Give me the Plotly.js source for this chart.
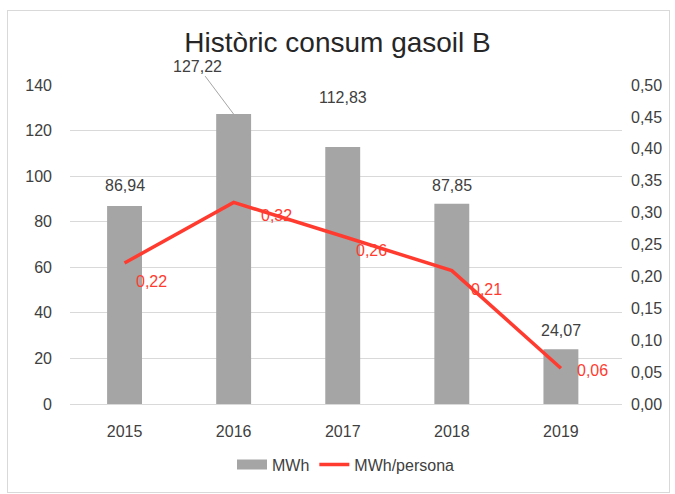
<!DOCTYPE html>
<html><head><meta charset="utf-8">
<script src="https://cdn.plot.ly/plotly-3.0.1.min.js"></script>
<style>body{margin:0;background:#fff}#frame{position:absolute;left:7px;top:10px;width:661px;height:481px;border:1px solid #d9d9d9;pointer-events:none}</style>
</head><body>
<div id="chart" style="width:675px;height:494px"></div>
<div id="frame"></div>
<script>
const years = ['2015','2016','2017','2018','2019'];
const mwh = [86.94, 127.22, 112.83, 87.85, 24.07];
const mwhLabels = ['86,94','127,22','112,83','87,85','24,07'];
const perPerson = [0.221, 0.316, 0.263, 0.209, 0.056];
const perPersonLabels = ['0,22','0,32','0,26','0,21','0,06'];

const font = 'Liberation Sans, Arial, sans-serif';
const traces = [
  {type:'bar', x:years, y:mwh, name:'MWh', marker:{color:'#a5a5a5'}, width:0.32, hoverinfo:'none', showlegend:false},
  {type:'scatter', mode:'lines', x:[null], y:[null], name:'MWh', line:{color:'#a5a5a5', width:10}, hoverinfo:'none'},
  {type:'scatter', mode:'lines', x:years, y:perPerson, name:'MWh/persona', yaxis:'y2',
   line:{color:'#ff3b30', width:3.5}, hoverinfo:'none'}
];
// label offsets (pixels) - style only
const barOff = [[0,-20,false],[-36,-48,true],[0,-49,false],[0,-18,false],[0,-19,false]];
const lineOff = [[27,18],[43,13],[29,14],[35,19],[32,2]];
const ann = [];
years.forEach((yr,i)=>{
  const o = barOff[i];
  if(o[2]){
    ann.push({x:i, y:mwh[i], xref:'x', yref:'y', text:mwhLabels[i], showarrow:true, arrowhead:0,
      arrowwidth:1, arrowcolor:'#a5a5a5', ax:o[0], ay:o[1], standoff:0,
      font:{family:font,size:16,color:'#404040'}});
  } else {
    ann.push({x:i, y:mwh[i], xref:'x', yref:'y', text:mwhLabels[i], showarrow:false,
      xshift:o[0], yshift:-o[1], font:{family:font,size:16,color:'#404040'}});
  }
  ann.push({x:i, y:perPerson[i], xref:'x', yref:'y2', text:perPersonLabels[i], showarrow:false,
    xshift:lineOff[i][0], yshift:-lineOff[i][1], font:{family:font,size:16,color:'#ff3b30'}});
});
const layout = {
  width:675, height:494,
  margin:{l:70, r:53, t:85, b:88},
  paper_bgcolor:'#fff', plot_bgcolor:'#fff',
  separators:',.',
  title:{text:'Històric consum gasoil B', x:0.5, xanchor:'center', y:0.915, yanchor:'middle',
    font:{family:font, size:28, color:'#262626'}},
  xaxis:{type:'category', range:[-0.5,4.56], showgrid:false, showline:false, zeroline:false,
    ticks:'', tickfont:{family:font,size:16,color:'#404040'}, ticklabelstandoff:16},
  yaxis:{range:[0,140], dtick:20, showgrid:true, gridcolor:'#d9d9d9', gridwidth:1, zeroline:true,
    zerolinecolor:'#d9d9d9', showline:false, ticks:'', tickfont:{family:font,size:16,color:'#404040'},
    ticklabelstandoff:17},
  yaxis2:{overlaying:'y', side:'right', range:[0,0.5], dtick:0.05, tickformat:'.2f', showgrid:false,
    zeroline:false, showline:false, ticks:'', tickfont:{family:font,size:16,color:'#404040'},
    ticklabelstandoff:8},
  showlegend:true,
  legend:{orientation:'h', x:0.5, xanchor:'center', y:-0.19, yanchor:'middle',
    font:{family:font,size:16,color:'#404040'}, traceorder:'normal'},
  annotations:ann
};
Plotly.newPlot('chart', traces, layout, {displayModeBar:false, staticPlot:true});
</script>
</body></html>
